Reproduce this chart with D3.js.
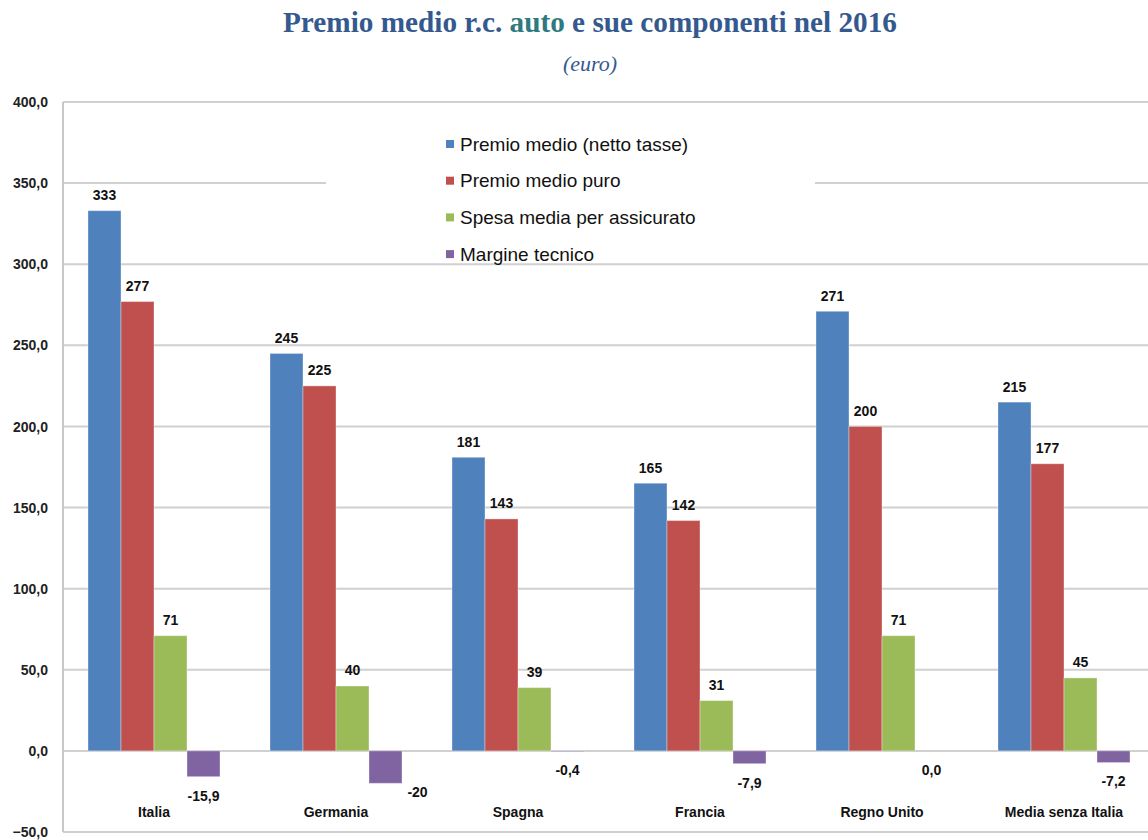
<!DOCTYPE html>
<html><head><meta charset="utf-8">
<script src="https://cdn.jsdelivr.net/npm/d3@7"></script>
<style>body{margin:0;background:#fff}svg{display:block}</style>
</head><body>
<svg id="chart" width="1148" height="840"></svg>
<script>
const categories = ["Italia","Germania","Spagna","Francia","Regno Unito","Media senza Italia"];
const seriesNames = ["Premio medio (netto tasse)","Premio medio puro","Spesa media per assicurato","Margine tecnico"];
const premioMedio = [333,245,181,165,271,215];
const premioPuro = [277,225,143,142,200,177];
const spesaMedia = [71,40,39,31,71,45];
const margine = [-15.9,-20,-0.4,-7.9,0,-7.2];
const labelsPremioMedio = ["333","245","181","165","271","215"];
const labelsPremioPuro = ["277","225","143","142","200","177"];
const labelsSpesa = ["71","40","39","31","71","45"];
const labelsMargine = ["-15,9","-20","-0,4","-7,9","0,0","-7,2"];
const yTicks = [-50,0,50,100,150,200,250,300,350,400];
const colors = ["#4F81BD","#C0504D","#9BBB59","#8064A2"];

const seriesValues = [premioMedio, premioPuro, spesaMedia, margine];
const seriesLabels = [labelsPremioMedio, labelsPremioPuro, labelsSpesa, labelsMargine];

const svg = d3.select("#chart");
const pLeft = 63, pRight = 1155, pTop = 102, pBottom = 832;

const x0 = d3.scaleBand().domain(categories).range([pLeft, pRight]);
const x1 = d3.scaleBand().domain(seriesNames).range([25, 157]);
const y = d3.scaleLinear().domain([-50, 400]).range([pBottom, pTop]);

// title
svg.append("text").attr("x", 590).attr("y", 32).attr("text-anchor","middle")
  .attr("font-family","'Liberation Serif','DejaVu Serif',serif").attr("font-weight","bold")
  .attr("font-size", 29).attr("fill","#34598F")
  .attr("textLength", 614).attr("lengthAdjust","spacingAndGlyphs")
  .html('Premio medio r.c. <tspan fill="#2E7A80">auto</tspan> e sue componenti nel 2016');
svg.append("text").attr("x", 590).attr("y", 71).attr("text-anchor","middle")
  .attr("font-family","'Liberation Serif','DejaVu Serif',serif").attr("font-style","italic")
  .attr("font-size", 22).attr("fill","#34598F").text("(euro)");

// gridlines
const grid = svg.append("g");
grid.selectAll("line").data(yTicks).join("line")
  .attr("x1", pLeft).attr("x2", pRight)
  .attr("y1", d => y(d)).attr("y2", d => y(d))
  .attr("stroke", "#d0d0d0").attr("stroke-width", 2);
svg.append("line").attr("x1", pLeft).attr("x2", pLeft).attr("y1", pTop).attr("y2", pBottom)
  .attr("stroke","#c8c8c8").attr("stroke-width",2);

// y axis labels
const yAxis = d3.axisLeft(y).tickValues(yTicks).tickSize(0).tickPadding(0)
  .tickFormat(d => d3.format(".1f")(d).replace(".", ","));
const ga = svg.append("g").attr("transform", `translate(${pLeft-15},0)`).call(yAxis);
ga.select(".domain").remove();
ga.selectAll("text").attr("font-family","'Liberation Sans',Arial,sans-serif")
  .attr("font-weight","bold").attr("font-size",14).attr("fill","#222").attr("dy","0.33em");

// legend box
svg.append("rect").attr("x", 326).attr("y", 122).attr("width", 489).attr("height", 138).attr("fill","#fff");
const lg = svg.append("g");
seriesNames.forEach((s, i) => {
  const cy = 144 + i * 36.7;
  lg.append("rect").attr("x", 446).attr("y", cy - 4).attr("width", 8).attr("height", 8).attr("fill", colors[i]);
  lg.append("text").attr("x", 460).attr("y", cy).attr("dy","0.35em")
    .attr("font-family","'Liberation Sans',Arial,sans-serif").attr("font-size",19).attr("fill","#111").text(s);
});

// bars
const data = [];
categories.forEach((c, ci) => {
  seriesNames.forEach((s, si) => {
    data.push({c, s, si, v: seriesValues[si][ci], lab: seriesLabels[si][ci]});
  });
});
svg.append("g").selectAll("rect").data(data).join("rect")
  .attr("x", d => x0(d.c) + x1(d.s))
  .attr("width", x1.bandwidth())
  .attr("y", d => y(Math.max(0, d.v)))
  .attr("height", d => Math.abs(y(d.v) - y(0)))
  .attr("fill", d => colors[d.si])
  .attr("stroke", "rgba(255,255,255,0.35)").attr("stroke-width", 1);

// value labels
svg.append("g").selectAll("text").data(data).join("text")
  .attr("font-family","'Liberation Sans',Arial,sans-serif").attr("font-weight","bold")
  .attr("font-size",14).attr("fill","#111").attr("text-anchor","middle")
  .each(function(d) {
    let cx = x0(d.c) + x1(d.s) + x1.bandwidth() / 2;
    let cy;
    if (d.v > 0) cy = y(d.v) - 15.5;
    else cy = y(d.v) + 19;
    if (cy > 797) { // avoid clash with category label: move to the right of bar
      cx = cx + 32; cy = y(d.v) + 9;
    }
    d3.select(this).attr("x", cx).attr("y", cy).attr("dy","0.35em").text(d.lab);
  });

// category labels
svg.append("g").selectAll("text").data(categories).join("text")
  .attr("x", d => x0(d) + x0.bandwidth() / 2).attr("y", 812).attr("dy","0.35em")
  .attr("text-anchor","middle")
  .attr("font-family","'Liberation Sans',Arial,sans-serif").attr("font-weight","bold")
  .attr("font-size",14).attr("fill","#111").text(d => d);
</script>
</body></html>
